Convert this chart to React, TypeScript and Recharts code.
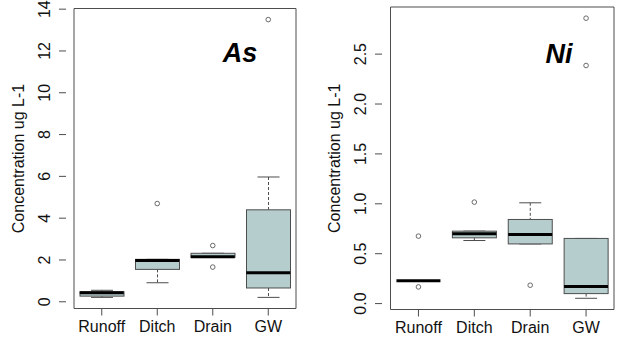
import { ComposedChart, Bar, Scatter, XAxis, YAxis, ReferenceArea } from 'recharts'

const categories = ['Runoff', 'Ditch', 'Drain', 'GW']

// As (ug L-1)
const asLow = [0.21, 0.91, 2.13, 0.21]
const asQ1 = [0.27, 1.55, 2.13, 0.66]
const asMedian = [0.43, 1.98, 2.16, 1.39]
const asQ3 = [0.48, 2.03, 2.32, 4.4]
const asHigh = [0.55, 2.03, 2.32, 5.97]
const asOut1 = [null, 4.7, 2.69, 13.5]
const asOut2 = [null, null, 1.66, null]
const asTicks = [0, 2, 4, 6, 8, 10, 12, 14]

// Ni (ug L-1)
const niLow = [0.23, 0.632, 0.598, 0.053]
const niQ1 = [0.23, 0.659, 0.598, 0.1]
const niMedian = [0.23, 0.699, 0.693, 0.171]
const niQ3 = [0.23, 0.726, 0.843, 0.653]
const niHigh = [0.23, 0.726, 1.01, 0.653]
const niOut1 = [0.676, 1.017, 0.184, 2.86]
const niOut2 = [0.167, null, null, 2.386]
const niTicks = [0, 0.5, 1, 1.5, 2, 2.5]

const FONT = '"Liberation Sans", Arial, sans-serif'
const EDGE = '#4d4d4d'
const FILL = '#b5cdcd'
const BOX_W = 44

type Num = number | null

function buildRows(low: number[], q1: number[], med: number[], q3: number[], high: number[], o1: Num[], o2: Num[]) {
  return categories.map((cat, i) => ({
    cat,
    lower: [low[i], q1[i]],
    box: [q1[i], q3[i]],
    upper: [q3[i], high[i]],
    med: med[i],
    o1: o1[i],
    o2: o2[i],
  }))
}

// R-style axis range: data range stretched by 4% each side
function rRange(...lists: Num[][]): [number, number] {
  const all = lists.flat().filter((v): v is number => v != null)
  const lo = Math.min(...all)
  const hi = Math.max(...all)
  const pad = (hi - lo) * 0.04
  return [lo - pad, hi + pad]
}

const BoxShape = (p: any) => {
  const top = Math.min(p.y, p.y + p.height)
  return <rect x={p.x} y={top} width={p.width} height={Math.abs(p.height)} fill={FILL} stroke={EDGE} strokeWidth={1} />
}

const whisker = (end: 'top' | 'bottom') => (p: any) => {
  const top = Math.min(p.y, p.y + p.height)
  const bot = Math.max(p.y, p.y + p.height)
  const cx = p.x + p.width / 2
  const sy = end === 'top' ? top : bot
  return (
    <g>
      {bot - top > 0.5 && <line x1={cx} x2={cx} y1={top} y2={bot} stroke={EDGE} strokeDasharray="3 2" />}
      <line x1={cx - BOX_W / 4} x2={cx + BOX_W / 4} y1={sy} y2={sy} stroke={EDGE} />
    </g>
  )
}

const MedianShape = (p: any) => (
  <line x1={p.cx - BOX_W / 2} x2={p.cx + BOX_W / 2} y1={p.cy} y2={p.cy} stroke="#000" strokeWidth={3} />
)

const outlier = (key: string) => (p: any) =>
  p.payload?.[key] == null || !Number.isFinite(p.cy) ? <g /> : (
    <circle cx={p.cx} cy={p.cy} r={2.3} fill="none" stroke="#6a6a6a" strokeWidth={1} />
  )

interface PanelProps {
  rows: ReturnType<typeof buildRows>
  domain: [number, number]
  ticks: number[]
  digits: number
  width: number
  top: number
  bottom: number
  pad: { left: number; right: number }
}

function Panel({ rows, domain, ticks, digits, width, top, bottom, pad }: PanelProps) {
  return (
    <ComposedChart
      width={width}
      height={338}
      data={rows}
      margin={{ top, right: 5, bottom: 0, left: 0 }}
      barGap={-BOX_W}
      barSize={BOX_W}
    >
      <XAxis
        dataKey="cat"
        type="category"
        interval={0}
        padding={pad}
        height={338 - bottom}
        axisLine={false}
        tickSize={7}
        tickMargin={5}
        tickLine={{ stroke: EDGE }}
        tick={(t: any) => (
          <text x={t.x} y={t.y} dy={11.5} textAnchor="middle" fontSize={16} fontFamily={FONT} fill="#111">
            {t.payload.value}
          </text>
        )}
      />
      <YAxis
        type="number"
        domain={domain}
        ticks={ticks}
        allowDataOverflow
        width={66}
        axisLine={false}
        tickSize={7}
        tickMargin={9}
        tickLine={{ stroke: EDGE }}
        tick={(t: any) => (
          <text
            transform={`translate(${t.x},${t.y}) rotate(-90)`}
            textAnchor="middle"
            fontSize={16}
            fontFamily={FONT}
            fill="#111"
          >
            {Number(t.payload.value).toFixed(digits)}
          </text>
        )}
        label={(l: any) => {
          const vb = l.viewBox
          return (
            <text
              transform={`translate(${vb.x + vb.width - 42.5},${vb.y + vb.height / 2}) rotate(-90)`}
              textAnchor="middle"
              fontSize={16}
              fontFamily={FONT}
              fill="#111"
            >
              Concentration ug L-1
            </text>
          )
        }}
      />
      <ReferenceArea y1={domain[0]} y2={domain[1]} fill="none" stroke={EDGE} strokeWidth={1} ifOverflow="visible" />
      <Bar dataKey="lower" shape={whisker('bottom')} isAnimationActive={false} />
      <Bar dataKey="upper" shape={whisker('top')} isAnimationActive={false} />
      <Bar dataKey="box" shape={BoxShape} isAnimationActive={false} />
      <Scatter dataKey="med" shape={MedianShape} isAnimationActive={false} />
      <Scatter dataKey="o1" shape={outlier('o1')} isAnimationActive={false} />
      <Scatter dataKey="o2" shape={outlier('o2')} isAnimationActive={false} />
    </ComposedChart>
  )
}

const asRows = buildRows(asLow, asQ1, asMedian, asQ3, asHigh, asOut1, asOut2)
const niRows = buildRows(niLow, niQ1, niMedian, niQ3, niHigh, niOut1, niOut2)
const asDomain = rRange(asLow, asHigh, asOut1, asOut2)
const niDomain = rRange(niLow, niHigh, niOut1, niOut2)

export default function App() {
  const titleStyle = { fontFamily: FONT, fontSize: 27, fontWeight: 700, fontStyle: 'italic' as const, fill: '#000' }
  return (
    <div style={{ position: 'absolute', left: 0, top: 0, width: 618, height: 338, overflow: 'hidden', background: '#fff' }}>
      <div style={{ position: 'absolute', left: 0, top: 0 }}>
        <Panel rows={asRows} domain={asDomain} ticks={asTicks} digits={0} width={310} top={8.5} bottom={308.5} pad={{ left: 8, right: 9 }} />
      </div>
      <div style={{ position: 'absolute', left: 316, top: 0 }}>
        <Panel rows={niRows} domain={niDomain} ticks={niTicks} digits={1} width={311} top={7} bottom={309.5} pad={{ left: 8.5, right: 8 }} />
      </div>
      <svg width={618} height={338} style={{ position: 'absolute', left: 0, top: 0, pointerEvents: 'none' }}>
        <text x={240} y={62} textAnchor="middle" style={titleStyle}>As</text>
        <text x={559} y={63} textAnchor="middle" style={titleStyle}>Ni</text>
      </svg>
    </div>
  )
}
